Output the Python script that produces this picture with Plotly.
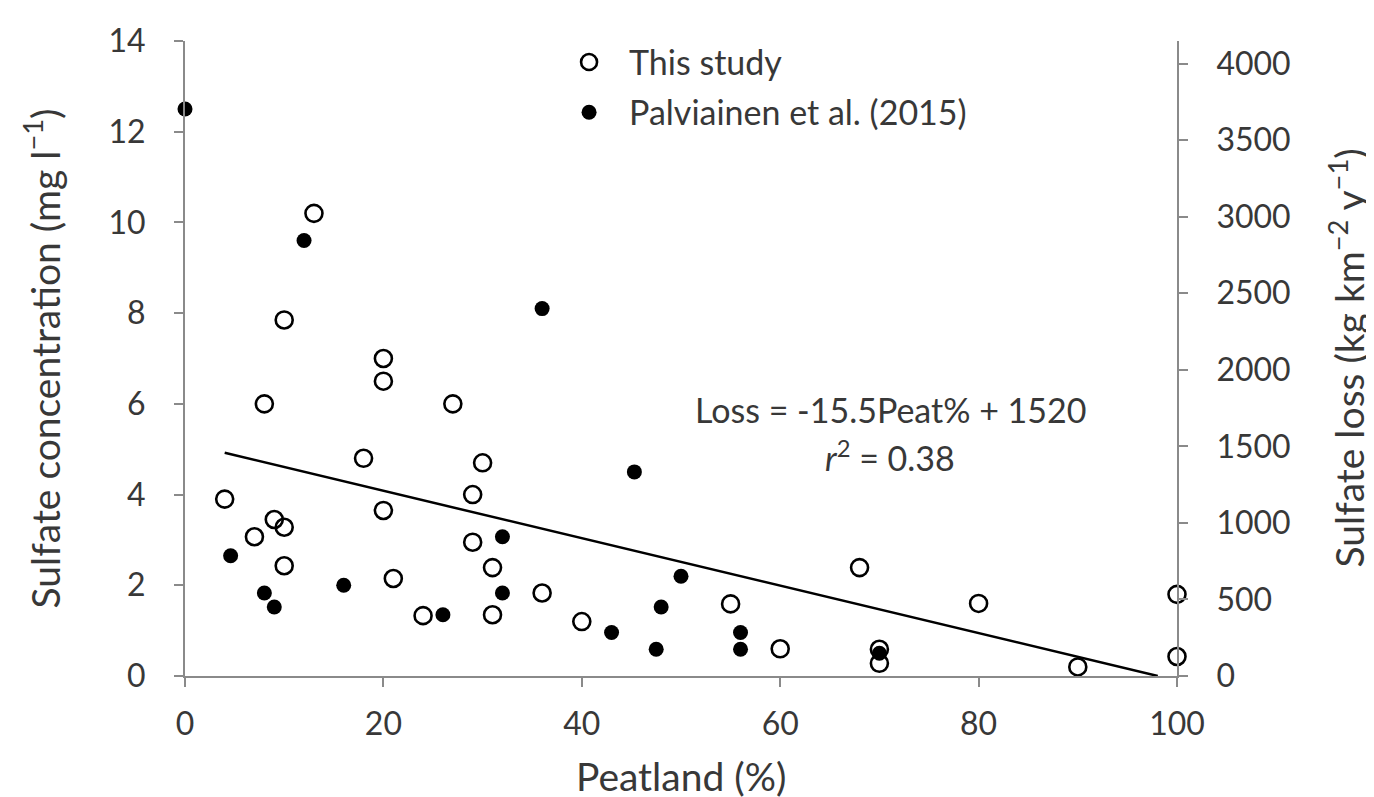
import plotly.graph_objects as go

# This study (open circles), concentration mg/l vs peatland %
study_x = [13, 10, 20, 20, 8, 27, 18, 30, 4, 29, 20, 9, 10, 7, 29, 10, 31, 21, 36, 24, 31,
           68, 55, 80, 40, 60, 70, 70, 90, 100, 100]
study_y = [10.2, 7.85, 7.0, 6.5, 6.0, 6.0, 4.8, 4.7, 3.9, 4.0, 3.65, 3.45, 3.28, 3.07, 2.95, 2.43, 2.39, 2.15, 1.83, 1.33, 1.35,
           2.39, 1.59, 1.6, 1.2, 0.6, 0.59, 0.28, 0.2, 1.8, 0.43]

# Palviainen et al. (2015) (filled circles)
palv_x = [0, 12, 36, 45.3, 32, 4.6, 16, 8, 32, 9, 26, 50, 48, 43, 56, 47.5, 56, 70]
palv_y = [12.5, 9.6, 8.1, 4.5, 3.07, 2.65, 2.0, 1.83, 1.83, 1.52, 1.35, 2.2, 1.52, 0.96, 0.96, 0.59, 0.59, 0.5]

# Regression line (right axis): Loss = -15.5 Peat% + 1520
slope = -15.5
intercept = 1520
line_x = [4, 98.06]
line_y = [slope * v + intercept for v in line_x]

x_ticks = [0, 20, 40, 60, 80, 100]
y_ticks = [0, 2, 4, 6, 8, 10, 12, 14]
y2_ticks = [0, 500, 1000, 1500, 2000, 2500, 3000, 3500, 4000]

FONT = "Lato"
TXT = "#383838"
AX = "#8a8a8a"
TICK_SIZE = 32
TITLE_SIZE = 39
NOTE_SIZE = 34

fig = go.Figure()
fig.add_trace(go.Scatter(x=study_x, y=study_y, mode="markers", name="This study",
                         legendgroup="a",
                         marker=dict(symbol="circle-open", size=17, color="black",
                                     line=dict(width=2.6, color="black")),
                         cliponaxis=False))
fig.add_trace(go.Scatter(x=palv_x, y=palv_y, mode="markers", name="Palviainen et al. (2015)",
                         legendgroup="b",
                         marker=dict(symbol="circle", size=15, color="black"),
                         cliponaxis=False))
fig.add_trace(go.Scatter(x=line_x, y=line_y, mode="lines", yaxis="y2", showlegend=False,
                         line=dict(color="black", width=2.5)))

axis_common = dict(showgrid=False, zeroline=False, showline=True, linecolor=AX, linewidth=2,
                   ticks="outside", ticklen=9, tickwidth=2, tickcolor=AX,
                   tickfont=dict(size=TICK_SIZE, color=TXT))

fig.update_layout(
    width=1374, height=797,
    margin=dict(l=177, r=205, t=24, b=129),
    paper_bgcolor="white", plot_bgcolor="white",
    font=dict(family=FONT, size=TICK_SIZE, color=TXT),
    showlegend=True,
    legend=dict(x=0.367, y=1.012, xanchor="left", yanchor="top",
                bgcolor="rgba(0,0,0,0)", font=dict(size=NOTE_SIZE, color=TXT),
                tracegroupgap=3, itemwidth=70),
    xaxis=dict(range=[0, 100], tickvals=x_ticks, ticklabelstandoff=10, **axis_common),
    yaxis=dict(range=[0, 14], tickvals=y_ticks, ticklabelstandoff=22, **axis_common),
    yaxis2=dict(range=[0, 4148], tickvals=y2_ticks, overlaying="y", side="right",
                ticklabelstandoff=22, **axis_common),
)

# Axis titles
fig.add_annotation(x=-0.1442, y=0.5, xref="paper", yref="paper", textangle=-90,
                   xanchor="center", yanchor="middle",
                   text="Sulfate concentration (mg l<sup>−1</sup>)", showarrow=False,
                   font=dict(size=TITLE_SIZE, color=TXT))
fig.add_annotation(x=1.1704, y=0.5, xref="paper", yref="paper", textangle=-90,
                   xanchor="center", yanchor="middle",
                   text="Sulfate loss (kg km<sup>−2</sup> y<sup>−1</sup>)", showarrow=False,
                   font=dict(size=TITLE_SIZE, color=TXT))
fig.add_annotation(x=0.5, y=-0.1568, xref="paper", yref="paper",
                   xanchor="center", yanchor="middle",
                   text="Peatland (%)", showarrow=False,
                   font=dict(size=TITLE_SIZE, color=TXT))

# Regression equation
fig.add_annotation(x=71.1, y=5.87, xref="x", yref="y", text="Loss = -15.5Peat% + 1520",
                   xanchor="center", yanchor="middle",
                   showarrow=False, font=dict(size=NOTE_SIZE, color=TXT))
fig.add_annotation(x=71.1, y=4.85, xref="x", yref="y", text="<i>r</i><sup>2</sup> = 0.38",
                   xanchor="center", yanchor="middle",
                   showarrow=False, font=dict(size=NOTE_SIZE, color=TXT))

fig.write_html("out.html")
